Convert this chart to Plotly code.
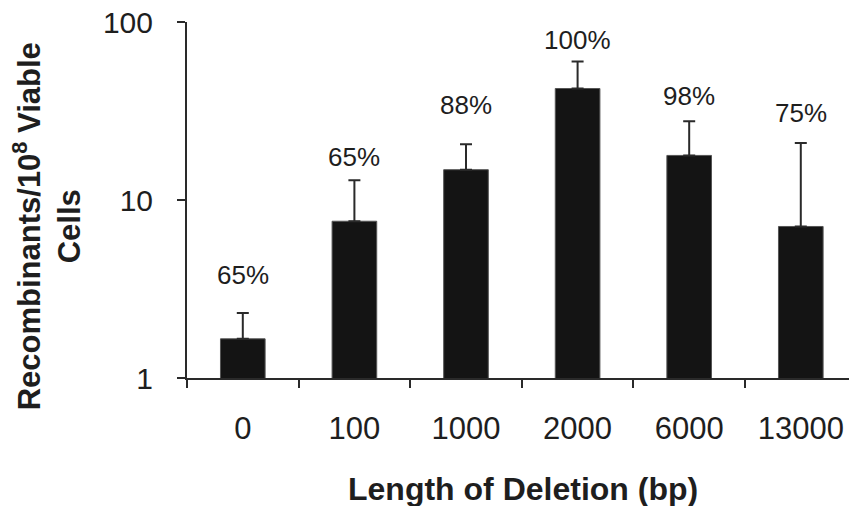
import math
import plotly.graph_objects as go

# ---- data ----
categories = ["0", "100", "1000", "2000", "6000", "13000"]
recombinants = [1.66, 7.6, 14.8, 42.3, 17.8, 7.1]
error_upper = [0.66, 5.3, 5.8, 17.6, 9.9, 13.8]
percent_labels = ["65%", "65%", "88%", "100%", "98%", "75%"]
y_tickvals = [1, 10, 100]
y_ticktext = ["1", "10", "100"]

# ---- styling ----
label_shift = [38, 23, 39, 22, 25, 30]
FONT = "Liberation Sans, Arial, Helvetica, sans-serif"
TXT = "#1e1e1e"
AX = "#2a2a2a"

fig = go.Figure()
fig.add_trace(go.Bar(
    x=categories,
    y=recombinants,
    width=0.4,
    marker=dict(color="#141414", line=dict(color="#555555", width=1)),
    error_y=dict(type="data", symmetric=False, array=error_upper,
                 arrayminus=[0] * len(error_upper),
                 color="#2a2a2a", thickness=2, width=6),
    showlegend=False,
    hoverinfo="skip",
))

annotations = []
for i, (v, e, t) in enumerate(zip(recombinants, error_upper, percent_labels)):
    annotations.append(dict(
        x=i, y=math.log10(v + e), xref="x", yref="y",
        text=t, showarrow=False, yanchor="middle", xanchor="center",
        yshift=label_shift[i],
        font=dict(family=FONT, size=26, color=TXT),
    ))

annotations.append(dict(
    x=-0.2115, y=0.426, xref="paper", yref="paper",
    text="<b>Recombinants/10<sup>8</sup> Viable<br>Cells</b>",
    textangle=-90, showarrow=False, xanchor="center", yanchor="middle",
    font=dict(family=FONT, size=31, color=TXT),
))
annotations.append(dict(
    x=0.507, y=-0.313, xref="paper", yref="paper",
    text="<b>Length of Deletion (bp)</b>",
    showarrow=False, xanchor="center", yanchor="middle",
    font=dict(family=FONT, size=32, color=TXT),
))

fig.update_layout(
    width=849, height=506,
    margin=dict(l=187, r=0, t=22, b=128, pad=0),
    paper_bgcolor="white", plot_bgcolor="white",
    annotations=annotations,
)
fig.update_xaxes(
    type="category",
    range=[-0.5, 5.432],
    showline=True, linecolor=AX, linewidth=2,
    ticks="outside", tickson="boundaries", ticklen=8, tickwidth=2, tickcolor=AX,
    ticklabelstandoff=22,
    tickfont=dict(family=FONT, size=31, color=TXT),
    showgrid=False, zeroline=False,
)
fig.update_yaxes(
    type="log",
    range=[0, 2],
    tickvals=y_tickvals, ticktext=y_ticktext,
    showline=True, linecolor=AX, linewidth=2,
    ticks="outside", ticklen=8, tickwidth=2, tickcolor=AX,
    ticklabelstandoff=18,
    tickfont=dict(family=FONT, size=30, color=TXT),
    showgrid=False, zeroline=False,
)

fig.write_html("out.html",
               config={"displayModeBar": False},
               post_script="document.body.style.margin='0';document.body.style.overflow='hidden';")
